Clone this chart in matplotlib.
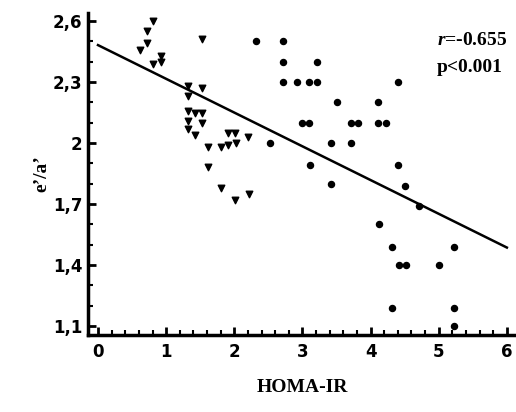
import matplotlib
matplotlib.use('Agg')
import matplotlib.pyplot as plt
import numpy as np
from matplotlib.ticker import MultipleLocator, FixedLocator

# left cluster (triangle markers)
tri_x = [0.80, 0.72, 0.72, 0.62, 0.92, 0.92, 0.81, 1.52,
         1.32, 1.52, 1.32, 1.32, 1.42, 1.52, 1.32, 1.52, 1.32, 1.42,
         1.61, 1.80, 1.91, 1.91, 2.01, 2.02, 2.20, 1.61, 1.80, 2.01, 2.21]
tri_y = [2.60, 2.55, 2.49, 2.46, 2.43, 2.40, 2.39, 2.51,
         2.28, 2.27, 2.23, 2.16, 2.15, 2.15, 2.11, 2.10, 2.07, 2.04,
         1.98, 1.98, 1.99, 2.05, 2.05, 2.00, 2.03, 1.88, 1.78, 1.72, 1.75]

# right cluster (circle markers)
dot_x = [2.32, 2.71, 2.71, 3.22, 2.71, 2.92, 3.09, 3.21, 4.40, 3.50, 4.11,
         3.00, 3.10, 3.71, 3.81, 4.11, 4.22, 2.52, 3.42, 3.71, 3.11, 4.40,
         3.42, 4.50, 4.71, 4.12, 4.31, 5.22, 4.41, 4.52, 5.01, 4.31, 5.22, 5.22]
dot_y = [2.50, 2.50, 2.40, 2.40, 2.30, 2.30, 2.30, 2.30, 2.30, 2.20, 2.20,
         2.10, 2.10, 2.10, 2.10, 2.10, 2.10, 2.00, 2.00, 2.00, 1.89, 1.89,
         1.80, 1.79, 1.69, 1.60, 1.49, 1.49, 1.40, 1.40, 1.40, 1.19, 1.19, 1.10]

# regression line
fit_intercept = 2.482
fit_slope = -0.166
line_x = [0, 6]

y_ticks = [1.1, 1.4, 1.7, 2.0, 2.3, 2.6]
y_labels = ['1,1', '1,4', '1,7', '2', '2,3', '2,6']
x_ticks = [0, 1, 2, 3, 4, 5, 6]

plt.rcParams['mathtext.fontset'] = 'custom'
plt.rcParams['mathtext.it'] = 'Liberation Serif:italic:bold'
plt.rcParams['mathtext.rm'] = 'Liberation Serif:bold'

fig = plt.figure(figsize=(5.16, 4.12), dpi=100)
ax = fig.add_axes([0.1705, 0.187, 0.829, 0.781])

ax.scatter(tri_x, tri_y, marker='v', s=22, color='black', zorder=3)
ax.scatter(dot_x, dot_y, marker='o', s=19, color='black', zorder=3)
ax.plot(line_x, [fit_intercept + fit_slope * v for v in line_x], color='black', lw=1.8)

ax.set_xlim(-0.147, 6.13)
ax.set_ylim(1.056, 2.639)

for s in ['top', 'right']:
    ax.spines[s].set_visible(False)
for s in ['left', 'bottom']:
    ax.spines[s].set_linewidth(2.5)

ax.yaxis.set_major_locator(FixedLocator(y_ticks))
ax.set_yticklabels(y_labels)
ax.yaxis.set_minor_locator(MultipleLocator(0.1))
ax.xaxis.set_major_locator(FixedLocator(x_ticks))
ax.xaxis.set_minor_locator(MultipleLocator(0.2))
ax.tick_params(which='major', direction='in', length=6, width=2, pad=6)
ax.tick_params(axis='y', which='major', pad=4)
ax.tick_params(which='minor', direction='in', length=3.5, width=1.5)
for lab in ax.get_xticklabels() + ax.get_yticklabels():
    lab.set_family(['Liberation Sans Narrow', 'DejaVu Sans'])
    lab.set_fontweight('bold')
    lab.set_fontsize(12)

ax.set_xlabel('HOMA-IR', family='Liberation Serif', fontweight='bold', fontsize=14, labelpad=13)
ax.set_ylabel('e\u2019/a\u2019', family='Liberation Serif', fontweight='bold', fontsize=14, labelpad=2)

ax.text(0.815, 0.916, r'$\mathit{r}$=-0.655', transform=ax.transAxes, family='Liberation Serif',
        fontweight='bold', fontsize=14, va='center')
ax.text(0.815, 0.832, 'p<0.001', transform=ax.transAxes, family='Liberation Serif',
        fontweight='bold', fontsize=14, va='center')

plt.savefig('out.png', dpi=100)
